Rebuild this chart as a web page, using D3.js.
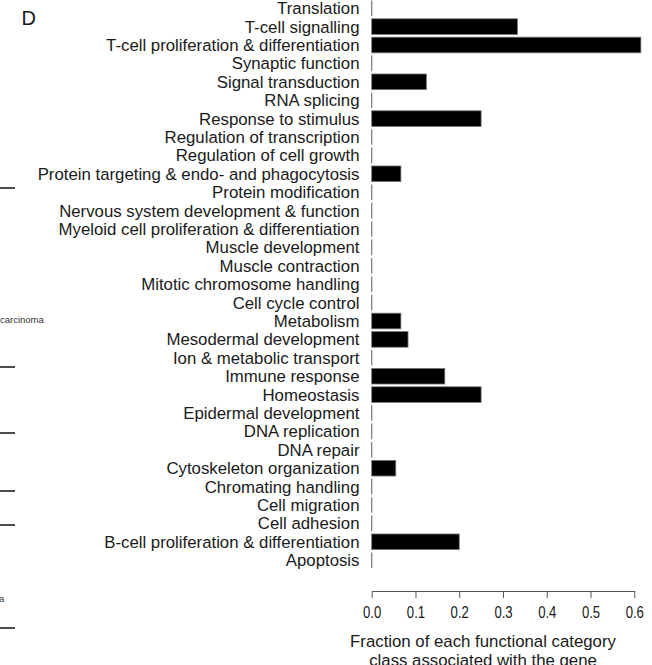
<!DOCTYPE html>
<html><head><meta charset="utf-8">
<script src="https://cdn.jsdelivr.net/npm/d3@7"></script>
<style>body{margin:0;background:#fff}svg{display:block}</style>
</head><body>
<script>
const categories = ["Translation","T-cell signalling","T-cell proliferation & differentiation","Synaptic function","Signal transduction","RNA splicing","Response to stimulus","Regulation of transcription","Regulation of cell growth","Protein targeting & endo- and phagocytosis","Protein modification","Nervous system development & function","Myeloid cell proliferation & differentiation","Muscle development","Muscle contraction","Mitotic chromosome handling","Cell cycle control","Metabolism","Mesodermal development","Ion & metabolic transport","Immune response","Homeostasis","Epidermal development","DNA replication","DNA repair","Cytoskeleton organization","Chromating handling","Cell migration","Cell adhesion","B-cell proliferation & differentiation","Apoptosis"];
const values = [0,0.333,0.615,0,0.125,0,0.25,0,0,0.0667,0,0,0,0,0,0,0,0.0667,0.083,0,0.167,0.25,0,0,0,0.055,0,0,0,0.2,0];
const ticks = [0,0.1,0.2,0.3,0.4,0.5,0.6];
const xTitle = ["Fraction of each functional category","class associated with the gene"];
const panelLabel = "D";

const W=652,H=665;
const svg=d3.select("body").append("svg").attr("width",W).attr("height",H);
const font="Liberation Sans, Arial, sans-serif";
const txt="#1a1a1a";

const x=d3.scaleLinear().domain([0,0.6]).range([371.7,634.3]);
const y=d3.scaleBand().domain(categories).range([-1,569.4]).paddingInner(0.15).paddingOuter(0.075);

// bars
const g=svg.append("g");
const data=categories.map((c,i)=>({c,v:values[i]}));
g.selectAll("rect").data(data.filter(d=>d.v>0)).join("rect")
  .attr("x",x(0)).attr("y",d=>y(d.c)).attr("width",d=>x(d.v)-x(0)).attr("height",y.bandwidth())
  .attr("fill","#000").attr("stroke","#777").attr("stroke-width",0.8);
g.selectAll("line.z").data(data.filter(d=>d.v===0)).join("line").attr("class","z")
  .attr("x1",x(0)).attr("x2",x(0)).attr("y1",d=>y(d.c)).attr("y2",d=>y(d.c)+y.bandwidth())
  .attr("stroke","#777").attr("stroke-width",1.2);

// category labels
svg.append("g").selectAll("text").data(categories).join("text")
  .attr("x",359.5).attr("y",d=>y(d)+y.bandwidth()/2).attr("dy","0.36em")
  .attr("text-anchor","end").attr("font-family",font).attr("font-size",16.8).attr("fill",txt)
  .text(d=>d);

// x axis
const ax=svg.append("g").attr("transform","translate(0,591)")
  .call(d3.axisBottom(x).tickValues(ticks).tickFormat(d3.format(".1f")).tickSize(7).tickPadding(8).tickSizeOuter(0));
ax.select(".domain").attr("stroke","#555");
ax.selectAll(".tick line").attr("stroke","#555");
ax.selectAll(".tick text").attr("font-family",font).attr("font-size",16).attr("fill",txt)
  .attr("y",0).attr("dy",0)
  .attr("transform","translate(0,27) scale(0.82,1)");

// x title
svg.append("g").selectAll("text").data(xTitle).join("text")
  .attr("x",483).attr("y",(d,i)=>647+i*19).attr("text-anchor","middle")
  .attr("font-family",font).attr("font-size",16.8).attr("fill",txt).text(d=>d);

// panel label
svg.append("text").attr("x",21.5).attr("y",25).attr("font-family",font).attr("font-size",20).attr("fill",txt).text(panelLabel);

// fragments of neighbouring panel
const fragLinesY=[188,367,433,491,525,628];
svg.append("g").selectAll("line").data(fragLinesY).join("line")
  .attr("x1",0).attr("x2",15).attr("y1",d=>d).attr("y2",d=>d).attr("stroke","#111").attr("stroke-width",1.5);
const fragTexts=[{t:"carcinoma",x:0,y:323},{t:"a",x:-1,y:602}];
svg.append("g").selectAll("text").data(fragTexts).join("text")
  .attr("x",d=>d.x).attr("y",d=>d.y).attr("font-family",font).attr("font-size",9.5).attr("fill","#333").text(d=>d.t);
</script>
</body></html>
